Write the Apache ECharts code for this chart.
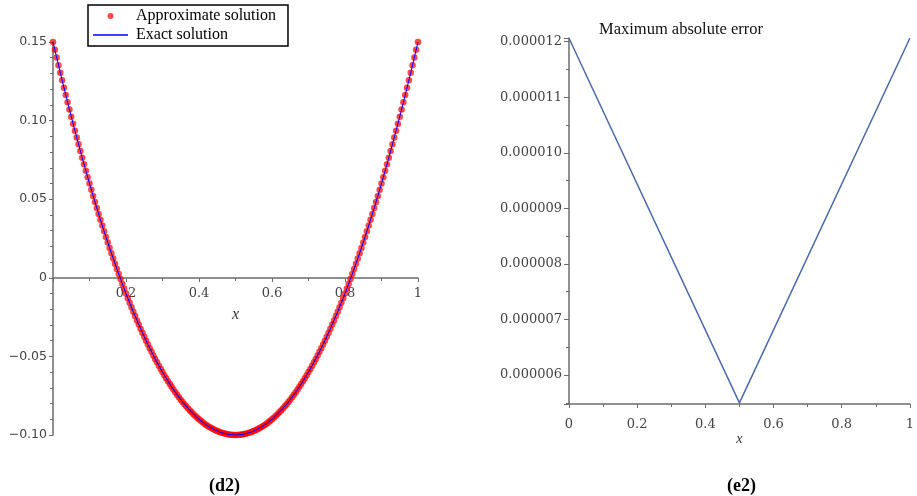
<!DOCTYPE html>
<html><head><meta charset="utf-8">
<script src="https://cdn.jsdelivr.net/npm/echarts@6/dist/echarts.min.js"></script>
<style>html,body{margin:0;padding:0;background:#fff}#c{width:917px;height:496px}</style>
</head><body><div id="c"></div>
<script>
// Approximate solution, sampled every 0.005 in x from 0 to 1
const approxStep = 0.005;
const approxY = [
  0.15, 0.145025, 0.1401, 0.135225, 0.1304, 0.125625, 0.1209, 0.116225, 0.1116, 0.107025,
  0.1025, 0.098025, 0.0936, 0.089225, 0.0849, 0.080625, 0.0764, 0.072225, 0.0681, 0.064025,
  0.06, 0.056025, 0.0521, 0.048225, 0.0444, 0.040625, 0.0369, 0.033225, 0.0296, 0.026025,
  0.0225, 0.019025, 0.0156, 0.012225, 0.0089, 0.005625, 0.0024, -0.000775, -0.0039, -0.006975,
  -0.01, -0.012975, -0.0159, -0.018775, -0.0216, -0.024375, -0.0271, -0.029775, -0.0324, -0.034975,
  -0.0375, -0.039975, -0.0424, -0.044775, -0.0471, -0.049375, -0.0516, -0.053775, -0.0559, -0.057975,
  -0.06, -0.061975, -0.0639, -0.065775, -0.0676, -0.069375, -0.0711, -0.072775, -0.0744, -0.075975,
  -0.0775, -0.078975, -0.0804, -0.081775, -0.0831, -0.084375, -0.0856, -0.086775, -0.0879, -0.088975,
  -0.09, -0.090975, -0.0919, -0.092775, -0.0936, -0.094375, -0.0951, -0.095775, -0.0964, -0.096975,
  -0.0975, -0.097975, -0.0984, -0.098775, -0.0991, -0.099375, -0.0996, -0.099775, -0.0999, -0.099975,
  -0.1,
  -0.099975, -0.0999, -0.099775, -0.0996, -0.099375, -0.0991, -0.098775, -0.0984, -0.097975, -0.0975,
  -0.096975, -0.0964, -0.095775, -0.0951, -0.094375, -0.0936, -0.092775, -0.0919, -0.090975, -0.09,
  -0.088975, -0.0879, -0.086775, -0.0856, -0.084375, -0.0831, -0.081775, -0.0804, -0.078975, -0.0775,
  -0.075975, -0.0744, -0.072775, -0.0711, -0.069375, -0.0676, -0.065775, -0.0639, -0.061975, -0.06,
  -0.057975, -0.0559, -0.053775, -0.0516, -0.049375, -0.0471, -0.044775, -0.0424, -0.039975, -0.0375,
  -0.034975, -0.0324, -0.029775, -0.0271, -0.024375, -0.0216, -0.018775, -0.0159, -0.012975, -0.01,
  -0.006975, -0.0039, -0.000775, 0.0024, 0.005625, 0.0089, 0.012225, 0.0156, 0.019025, 0.0225,
  0.026025, 0.0296, 0.033225, 0.0369, 0.040625, 0.0444, 0.048225, 0.0521, 0.056025, 0.06,
  0.064025, 0.0681, 0.072225, 0.0764, 0.080625, 0.0849, 0.089225, 0.0936, 0.098025, 0.1025,
  0.107025, 0.1116, 0.116225, 0.1209, 0.125625, 0.1304, 0.135225, 0.1401, 0.145025, 0.15
];
// Exact solution, sampled every 0.02 in x from 0 to 1
const exactStep = 0.02;
const exactY = [
  0.15, 0.1304, 0.1116, 0.0936, 0.0764, 0.06, 0.0444, 0.0296, 0.0156, 0.0024,
  -0.01, -0.0216, -0.0324, -0.0424, -0.0516, -0.06, -0.0676, -0.0744, -0.0804, -0.0856,
  -0.09, -0.0936, -0.0964, -0.0984, -0.0996, -0.1,
  -0.0996, -0.0984, -0.0964, -0.0936, -0.09, -0.0856, -0.0804, -0.0744, -0.0676, -0.06,
  -0.0516, -0.0424, -0.0324, -0.0216, -0.01, 0.0024, 0.0156, 0.0296, 0.0444, 0.06,
  0.0764, 0.0936, 0.1116, 0.1304, 0.15
];
// Maximum absolute error
const errX = [0, 0.5, 1];
const errY = [0.00001206, 0.0000055, 0.00001206];

const axisCol = '#6b6b6b';
const chart = echarts.init(document.getElementById('c'));
chart.setOption({
  animation: false,
  backgroundColor: '#fff',
  title: [
    {text: 'Maximum absolute error', left: 594, top: 16,
     textStyle: {fontFamily: 'Liberation Serif', fontSize: 16.5, fontWeight: 'normal', color: '#111'}},
    {text: '(d2)', left: 204, top: 472,
     textStyle: {fontFamily: 'Liberation Serif', fontSize: 18, fontWeight: 'bold', color: '#000'}},
    {text: '(e2)', left: 722, top: 472,
     textStyle: {fontFamily: 'Liberation Serif', fontSize: 18, fontWeight: 'bold', color: '#000'}}
  ],
  legend: {
    data: [
      {name: 'Approximate solution', icon: 'circle'},
      {name: 'Exact solution', icon: 'path://M0,0H70V3H0Z'}
    ],
    orient: 'vertical', left: 88, top: 5,
    itemWidth: 35, itemHeight: 6, itemGap: 3,
    padding: [3, 12, 3, 5],
    borderColor: '#000', borderWidth: 1.5,
    textStyle: {fontFamily: 'Liberation Serif', fontSize: 16, color: '#000', padding: [0, 0, 0, 3]}
  },
  grid: [
    {left: 53, top: 42, width: 365, height: 393},
    {left: 569, top: 38, width: 341, height: 366}
  ],
  xAxis: [
    {type: 'value', gridIndex: 0, min: 0, max: 1, interval: 0.2,
     position: 'bottom', offset: -157,
     axisLine: {onZero: false, lineStyle: {color: axisCol, width: 1.5}},
     axisTick: {length: 4, lineStyle: {color: axisCol}},
     minorTick: {show: true, splitNumber: 2, length: 3, lineStyle: {color: axisCol}},
     splitLine: {show: false},
     axisLabel: {showMinLabel: false, fontFamily: 'DejaVu Serif', fontSize: 13, color: '#444', margin: 9,
                 formatter: v => String(+v.toFixed(2))},
     name: 'x', nameLocation: 'middle', nameGap: 29, nameMoveOverlap: false,
     nameTextStyle: {fontFamily: 'Liberation Serif', fontStyle: 'italic', fontSize: 16, color: '#333'}},
    {type: 'value', gridIndex: 1, min: 0, max: 1, interval: 0.2,
     axisLine: {onZero: false, lineStyle: {color: axisCol, width: 1.5}},
     axisTick: {length: 4, lineStyle: {color: axisCol}},
     minorTick: {show: true, splitNumber: 2, length: 3, lineStyle: {color: axisCol}},
     splitLine: {show: false},
     axisLabel: {fontFamily: 'DejaVu Serif', fontSize: 13, color: '#444', margin: 14,
                 formatter: v => String(+v.toFixed(2))},
     name: 'x', nameLocation: 'middle', nameGap: 28, nameMoveOverlap: false,
     nameTextStyle: {fontFamily: 'Liberation Serif', fontStyle: 'italic', fontSize: 14, color: '#333'}}
  ],
  yAxis: [
    {type: 'value', gridIndex: 0, min: -0.1, max: 0.15, interval: 0.05,
     axisLine: {show: true, onZero: false, lineStyle: {color: axisCol, width: 1.5}},
     axisTick: {show: true, length: 4, lineStyle: {color: axisCol}},
     minorTick: {show: true, splitNumber: 5, length: 3, lineStyle: {color: axisCol}},
     splitLine: {show: false},
     axisLabel: {fontFamily: 'DejaVu Sans', fontSize: 12.5, color: '#444', margin: 6,
                 formatter: v => Math.abs(v) < 1e-9 ? '0' : v.toFixed(2).replace('-', '\u2212')}},
    {type: 'value', gridIndex: 1, min: 0.00000548, max: 0.000012065, splitNumber: 6,
     axisLine: {show: true, onZero: false, lineStyle: {color: axisCol, width: 1.5}},
     axisTick: {show: true, length: 5, lineStyle: {color: axisCol}},
     minorTick: {show: true, splitNumber: 2, length: 3, lineStyle: {color: axisCol}},
     splitLine: {show: false},
     axisLabel: {showMinLabel: false, showMaxLabel: false, fontFamily: 'DejaVu Serif', fontSize: 13,
                 color: '#444', margin: 7, formatter: v => v.toFixed(6)}}
  ],
  series: [
    {name: 'Approximate solution', type: 'scatter', xAxisIndex: 0, yAxisIndex: 0,
     data: approxY.map((y, i) => [i * approxStep, y]),
     symbol: 'circle', symbolSize: 6.5,
     itemStyle: {color: 'rgba(255,0,0,0.9)'}, z: 2},
    {name: 'Exact solution', type: 'line', xAxisIndex: 0, yAxisIndex: 0,
     data: exactY.map((y, i) => [i * exactStep, y]),
     symbol: 'none', color: '#0000ff',
     lineStyle: {color: '#0000ff', width: 1}, z: 3},
    {name: 'Maximum absolute error', type: 'line', xAxisIndex: 1, yAxisIndex: 1,
     data: errX.map((x, i) => [x, errY[i]]),
     symbol: 'none', color: '#4a6aa8',
     lineStyle: {color: '#4a6aa8', width: 1.5}}
  ]
});
</script></body></html>
